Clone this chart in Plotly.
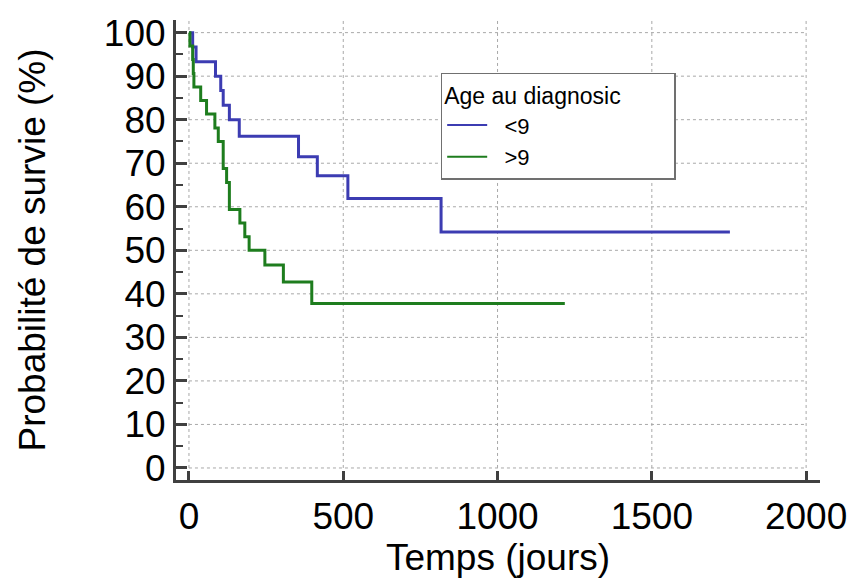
import plotly.graph_objects as go

# ---- data (Kaplan-Meier steps) ----
blue_name = "<9"
blue_time = [0, 12, 23, 86, 103, 111, 131, 163, 355, 416, 515, 817, 1753]
blue_surv = [100, 96.7, 93.3, 90.0, 86.7, 83.3, 80.0, 76.2, 71.5, 67.1, 61.9, 54.2, 54.2]

green_name = ">9"
green_time = [0, 3, 12, 14, 16, 38, 57, 84, 95, 111, 122, 131, 165, 181, 195, 246, 306, 398, 1218]
green_surv = [100, 96.9, 93.8, 90.6, 87.5, 84.4, 81.3, 78.1, 75.0, 68.8, 65.6, 59.4, 56.3, 53.1, 50.0, 46.6, 42.7, 37.8, 37.8]

x_ticks = [0, 500, 1000, 1500, 2000]
y_ticks = [0, 10, 20, 30, 40, 50, 60, 70, 80, 90, 100]

legend_title = "Age au diagnosic"
x_title = "Temps (jours)"
y_title = "Probabilité de survie (%)"

BLUE = "#3c3cb2"
GREEN = "#1e7d1e"
AXIS = "#404040"
GRID = "#a8a8a8"
FONT = "Liberation Sans, Arial, sans-serif"

x_range = [-42, 2045]
y_range = [-2.76, 102.9]

fig = go.Figure()

fig.add_trace(go.Scatter(x=blue_time, y=blue_surv, mode="lines", line=dict(color=BLUE, width=3, shape="hv"),
                         showlegend=False, hoverinfo="x+y"))
fig.add_trace(go.Scatter(x=green_time, y=green_surv, mode="lines", line=dict(color=GREEN, width=3, shape="hv"),
                         showlegend=False, hoverinfo="x+y"))
# legend entries (thinner sample lines as in reference)
NB = "&nbsp;"
fig.add_trace(go.Scatter(x=[None], y=[None], mode="lines", name=NB * 2 + blue_name, line=dict(color=BLUE, width=2)))
fig.add_trace(go.Scatter(x=[None], y=[None], mode="lines", name=NB * 2 + green_name, line=dict(color=GREEN, width=2)))

shapes = []
for yv in y_ticks:
    shapes.append(dict(type="line", xref="x", yref="y", x0=min(x_ticks), x1=max(x_ticks), y0=yv, y1=yv,
                       line=dict(color=GRID, width=1, dash="dot"), layer="below"))
for xv in x_ticks:
    shapes.append(dict(type="line", xref="x", yref="y", x0=xv, x1=xv, y0=min(y_ticks), y1=y_range[1],
                       line=dict(color=GRID, width=1, dash="dot"), layer="below"))

fig.update_layout(
    width=853, height=581,
    margin=dict(l=176, r=33, t=20, b=101, autoexpand=False),
    paper_bgcolor="white", plot_bgcolor="white",
    font=dict(family=FONT, color="black", size=36),
    shapes=shapes,
    legend=dict(
        title=dict(text=legend_title + NB * 8, font=dict(size=23, family=FONT, color="black"), side="top"),
        font=dict(size=22, family=FONT, color="black"),
        x=0.411, y=0.885, xanchor="left", yanchor="top",
        bgcolor="white", bordercolor="#707070", borderwidth=1.5,
        tracegroupgap=0, itemwidth=40,
    ),
    xaxis=dict(
        range=x_range, tickvals=x_ticks, ticktext=[str(v) for v in x_ticks],
        showgrid=False, zeroline=False, automargin=False,
        showline=True, linecolor=AXIS, linewidth=3, mirror=False,
        ticks="inside", ticklen=9, tickwidth=3, tickcolor=AXIS,
        tickfont=dict(size=37, family=FONT, color="black"),
        ticklabelstandoff=2,
        title=dict(text=x_title, font=dict(size=37, family=FONT, color="black"), standoff=4),
    ),
    yaxis=dict(
        range=y_range, tickvals=y_ticks, ticktext=[str(v) for v in y_ticks],
        showgrid=False, zeroline=False, automargin=False,
        showline=True, linecolor=AXIS, linewidth=3, mirror=False,
        ticks="inside", ticklen=11, tickwidth=3, tickcolor=AXIS,
        minor=dict(dtick=5, tick0=0, ticks="inside", ticklen=7, tickwidth=2, tickcolor=AXIS, showgrid=False),
        tickfont=dict(size=37, family=FONT, color="black"),
        title=dict(text=y_title, font=dict(size=37, family=FONT, color="black"), standoff=47),
    ),
)

fig.write_html(
    "out.html",
    config={"displayModeBar": False},
    post_script="document.body.style.margin='0';document.body.style.overflow='hidden';",
)
